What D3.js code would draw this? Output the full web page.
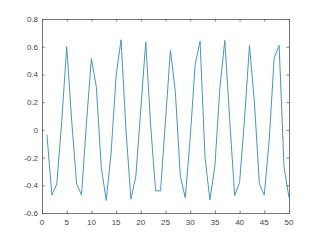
<!DOCTYPE html>
<html>
<head>
<meta charset="utf-8">
<script src="https://cdn.jsdelivr.net/npm/d3@7"></script>
<style>
  body { margin:0; background:#fff; }
  svg { display:block; }
  .tick-label { font-family: "Liberation Sans", Arial, sans-serif; font-size:8px; fill:#444; }
</style>
</head>
<body>
<svg id="chart"></svg>
<script>

// data, one value per sample 1..50
var xs = d3.range(1, 51);
var ys = [
  -0.035, -0.47, -0.39, 0.06, 0.60, 0.07, -0.39, -0.47, 0.05, 0.515,
   0.31, -0.27, -0.51, -0.16, 0.39, 0.65, 0.0, -0.50, -0.335, 0.15,
   0.635, 0.03, -0.44, -0.44, 0.07, 0.575, 0.27, -0.335, -0.49, -0.06,
   0.47, 0.64, -0.2, -0.505, -0.26, 0.3, 0.645, 0.07, -0.475, -0.38,
   0.08, 0.61, 0.2, -0.39, -0.47, -0.07, 0.52, 0.61, -0.27, -0.49
];
var xTicks = [0, 5, 10, 15, 20, 25, 30, 35, 40, 45, 50];
var yTicks = [-0.6, -0.4, -0.2, 0, 0.2, 0.4, 0.6, 0.8];

var W = 320, H = 240;
var margin = {top: 19, right: 31, bottom: 27, left: 42};
var width = W - margin.left - margin.right,
    height = H - margin.top - margin.bottom;

var svg = d3.select("#chart").attr("width", W).attr("height", H);
var g = svg.append("g").attr("transform", "translate(" + margin.left + "," + margin.top + ")");

var x = d3.scaleLinear().domain([0, 50]).range([0, width]);
var y = d3.scaleLinear().domain([-0.6, 0.8]).range([height, 0]);

var tickLen = 2.5;
var axisColor = "#555";

// the line
var line = d3.line()
  .x(function(d, i) { return x(xs[i]); })
  .y(function(d) { return y(d); });

g.append("path")
  .datum(ys)
  .attr("d", line)
  .attr("fill", "none")
  .attr("stroke", "#4a94c4")
  .attr("stroke-width", 1);

// box
g.append("rect")
  .attr("x", 0.5).attr("y", 0.5)
  .attr("width", width).attr("height", height)
  .attr("fill", "none")
  .attr("stroke", axisColor)
  .attr("stroke-width", 0.8);

// x ticks (bottom and top, pointing in)
g.selectAll(".xt-b").data(xTicks).enter().append("line")
  .attr("x1", function(d) { return x(d) + 0.5; })
  .attr("x2", function(d) { return x(d) + 0.5; })
  .attr("y1", height).attr("y2", height - tickLen)
  .attr("stroke", axisColor).attr("stroke-width", 0.8);

g.selectAll(".xt-t").data(xTicks).enter().append("line")
  .attr("x1", function(d) { return x(d) + 0.5; })
  .attr("x2", function(d) { return x(d) + 0.5; })
  .attr("y1", 0).attr("y2", tickLen)
  .attr("stroke", axisColor).attr("stroke-width", 0.8);

// y ticks (left and right)
g.selectAll(".yt-l").data(yTicks).enter().append("line")
  .attr("x1", 0).attr("x2", tickLen)
  .attr("y1", function(d) { return y(d) + 0.5; })
  .attr("y2", function(d) { return y(d) + 0.5; })
  .attr("stroke", axisColor).attr("stroke-width", 0.8);

g.selectAll(".yt-r").data(yTicks).enter().append("line")
  .attr("x1", width).attr("x2", width - tickLen)
  .attr("y1", function(d) { return y(d) + 0.5; })
  .attr("y2", function(d) { return y(d) + 0.5; })
  .attr("stroke", axisColor).attr("stroke-width", 0.8);

// tick labels
g.selectAll(".xl").data(xTicks).enter().append("text")
  .attr("class", "tick-label")
  .attr("x", function(d) { return x(d); })
  .attr("y", height + 12)
  .attr("text-anchor", "middle")
  .text(function(d) { return d; });

g.selectAll(".yl").data(yTicks).enter().append("text")
  .attr("class", "tick-label")
  .attr("x", -4)
  .attr("y", function(d) { return y(d) + 3; })
  .attr("text-anchor", "end")
  .text(function(d) { return d3.format("~g")(d).replace("−", "-"); });

</script>
</body>
</html>
